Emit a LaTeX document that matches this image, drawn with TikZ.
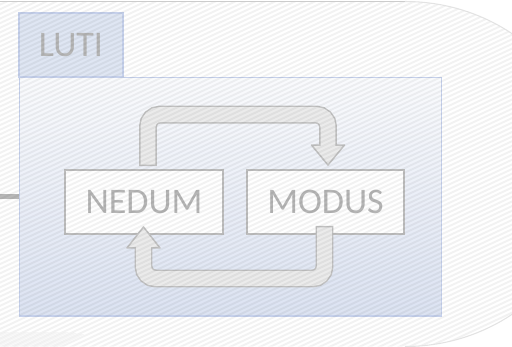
\documentclass[tikz,border=0pt]{standalone}
\usepackage{fontspec}
\setmainfont{Carlito}
\definecolor{lutiblue}{HTML}{DCE3F2}
\definecolor{lutiline}{HTML}{C6D1EC}
\definecolor{textgray}{HTML}{B6B6B6}
\definecolor{rimgray}{HTML}{C2C2C2}
\definecolor{corefill}{HTML}{EBEBEB}
\definecolor{boxline}{HTML}{BEBEBE}

\begin{document}
\begin{tikzpicture}[x=0.02cm, y=-0.02cm,
    model/.style={draw=boxline, line width=1.1pt, fill=white, inner sep=0pt,
      minimum height=1.28cm, text=textgray, font=\fontsize{20.5}{24}\selectfont},
    rim/.style={draw=rimgray, line width=10.2pt, rounded corners=6.8pt},
    core/.style={draw=corefill, line width=8.5pt, rounded corners=6.8pt,
      shorten <=.85pt, shorten >=-1.5pt},
    head/.style={fill=corefill, draw=rimgray, line width=.85pt, line join=round},
    hatchline/.style={draw=black, draw opacity=.05, line width=1.1pt}]
  \useasboundingbox (0,0) rectangle (512,346);
  \fill[white] (0,0) rectangle (512,346);

  % frame and tab
  \node[draw=lutiline, line width=.6pt, top color=lutiblue!15!white,
    bottom color=lutiblue, minimum width=8.46cm, minimum height=4.78cm] (frame) at (230.5,196.5) {};
  \node[draw=lutiline, line width=.6pt, fill=lutiblue!90!white, inner sep=0pt,
    minimum width=2.08cm, minimum height=1.28cm, text=textgray,
    font=\fontsize{20.5}{24}\selectfont] (tab) at (71,45) {LUTI};

  \coordinate (feed) at (0,196.5);
  \draw[rimgray!95!black, line width=2.8pt] (feed) -- (feed -| frame.west);

  % models
  \node[model, minimum width=3.16cm] (nedum) at (144,202) {NEDUM};
  \node[model, minimum width=3.14cm] (modus) at (325.5,202) {MODUS};

  % upper loop
  \coordinate (upfoot) at ([xshift=.08cm,yshift=.06cm]nedum.north);
  \coordinate (uphead) at ([xshift=.05cm,yshift=.48cm]modus.north);
  \draw[rim] (upfoot) -- ++(0,-51.5) -| (uphead);
  \filldraw[head] ([xshift=-.33cm]uphead) -- ([yshift=-.4cm]uphead) -- ([xshift=.33cm]uphead) -- cycle;
  \draw[core] (upfoot) -- ++(0,-51.5) -| (uphead);

  % lower loop
  \coordinate (lowfoot) at ([xshift=-.02cm,yshift=.18cm]modus.south);
  \coordinate (lowhead) at ([xshift=-.01cm,yshift=-.26cm]nedum.south);
  \draw[rim] (lowfoot) -- ++(0,52.5) -| (lowhead);
  \filldraw[head] ([xshift=-.33cm]lowhead) -- ([yshift=.42cm]lowhead) -- ([xshift=.33cm]lowhead) -- cycle;
  \draw[core] (lowfoot) -- ++(0,52.5) -| (lowhead);

  % hatched backdrop
  \begin{scope}
    \clip (0,1.5) -- (405,1.5)
      arc[start angle=-90, end angle=90, x radius=184, y radius=172.5] -- (0,346.5) -- cycle;
    \foreach \c in {0,4.2,...,540}
      \draw[hatchline] (-20,{(\c+20*0.4226)/0.9063}) -- (560,{(\c-560*0.4226)/0.9063});
  \end{scope}
  \begin{scope}
    \clip (0,332) -- (60,332) .. controls (86,332) and (98,338) .. (106,347) -- (0,347) -- cycle;
    \foreach \c in {300,304.2,...,340}
      \draw[hatchline, draw opacity=.035] (-20,{(\c+20*0.4226)/0.9063}) -- (560,{(\c-560*0.4226)/0.9063});
  \end{scope}
  \draw[gray!40, line width=.8pt] (0,1.5) -- (405,1.5);
  \draw[gray!22, line width=.6pt] (405,1.5)
    arc[start angle=-90, end angle=90, x radius=184, y radius=172.5];
\end{tikzpicture}
\end{document}
